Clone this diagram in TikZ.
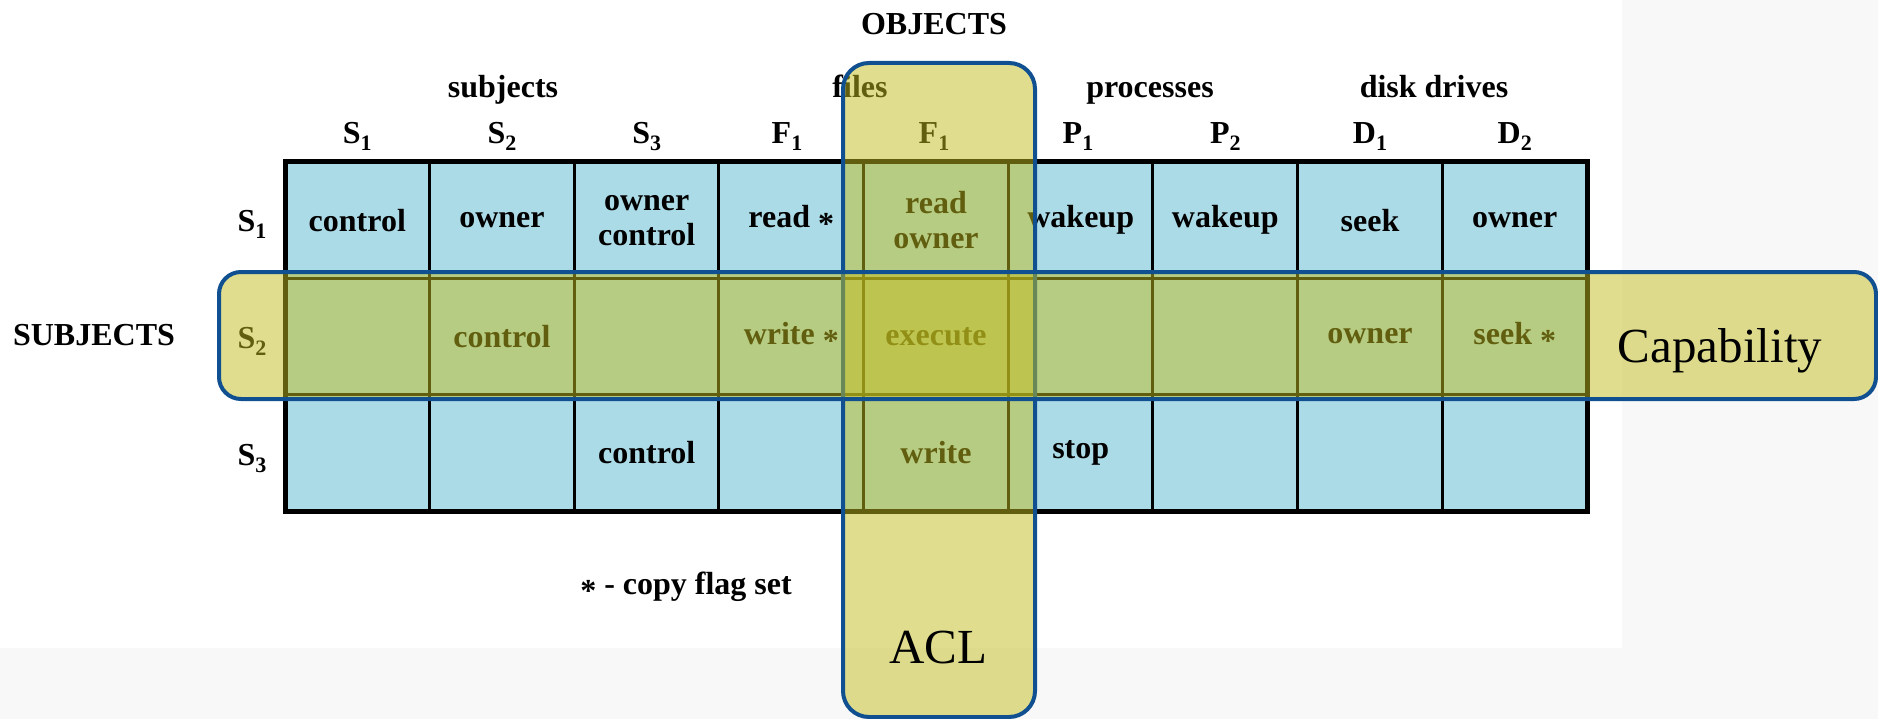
\documentclass[tikz,border=0pt]{standalone}
\usepackage{fontspec}
\setmainfont{Liberation Serif}
\definecolor{cellblue}{RGB}{172,219,232}
\definecolor{bandfill}{RGB}{195,191,31}
\definecolor{bandline}{RGB}{16,80,145}
\definecolor{patbg}{RGB}{248,248,248}
\newcommand\tfont{\fontsize{32}{35}\selectfont\bfseries}
\newcommand\bfont{\fontsize{49}{52}\selectfont}
\newcommand\lsub[1]{\raisebox{-7pt}{\fontsize{22}{22}\selectfont #1}}
\newcommand\cstar{\raisebox{-0.22em}{*}}
\begin{document}
\begin{tikzpicture}[x=1pt,y=-1pt,
  cell/.style={rectangle, minimum width=144.67pt, minimum height=116.33pt, inner sep=0pt, fill=cellblue, draw=black, line width=3pt, font=\tfont, align=center},
  lbl/.style={font=\tfont, anchor=base, inner sep=0pt},
  band/.style={draw=bandline, line width=4pt, fill=bandfill, fill opacity=0.5, rounded corners=26pt, inner sep=0pt},
  bandtext/.style={font=\bfont, anchor=base, inner sep=0pt, text=black}]
\fill[patbg] (0,0) rectangle (1878,719);
\fill[white] (0,0) rectangle (1622,648);
\useasboundingbox (0,0) rectangle (1878,719);

% row 1
\node[cell] (c11) at (357.3,220.2) {control};
\node[cell] (c12) at (502.0,220.2) {owner};
\node[cell] (c13) at (646.7,220.2) {owner\\control};
\node[cell] (c14) at (791.3,220.2) {read \cstar};
\node[cell] (c15) at (936.0,220.2) {read\\owner};
\node[cell] (c16) at (1080.7,220.2) {wakeup};
\node[cell] (c17) at (1225.3,220.2) {wakeup};
\node[cell] (c18) at (1370.0,220.2) {seek};
\node[cell] (c19) at (1514.7,220.2) {owner};
% row 2
\node[cell] (c21) at (357.3,336.5) {};
\node[cell] (c22) at (502.0,336.5) {control};
\node[cell] (c23) at (646.7,336.5) {};
\node[cell] (c24) at (791.3,336.5) {write \cstar};
\node[cell] (c25) at (936.0,336.5) {execute};
\node[cell] (c26) at (1080.7,336.5) {};
\node[cell] (c27) at (1225.3,336.5) {};
\node[cell] (c28) at (1370.0,336.5) {owner};
\node[cell] (c29) at (1514.7,336.5) {seek \cstar};
% row 3
\node[cell] (c31) at (357.3,452.8) {};
\node[cell] (c32) at (502.0,452.8) {};
\node[cell] (c33) at (646.7,452.8) {control};
\node[cell] (c34) at (791.3,452.8) {};
\node[cell] (c35) at (936.0,452.8) {write};
\node[cell] (c36) at (1080.7,452.8) {stop};
\node[cell] (c37) at (1225.3,452.8) {};
\node[cell] (c38) at (1370.0,452.8) {};
\node[cell] (c39) at (1514.7,452.8) {};
\draw[line width=5pt] (285,162) rectangle (1587,511);

% headers
\node[lbl] (objects) at (934,35) {OBJECTS};
\node[lbl] (gsubj) at (503,98) {subjects};
\node[lbl] (gfiles) at (860,98) {files};
\node[lbl] (gproc) at (1150,98) {processes};
\node[lbl] (gdisk) at (1434,98) {disk drives};
\node[lbl] (hs1) at (357.3,144) {S\lsub{1}};
\node[lbl] (hs2) at (502.0,144) {S\lsub{2}};
\node[lbl] (hs3) at (646.7,144) {S\lsub{3}};
\node[lbl] (hf1) at (787,144) {F\lsub{1}};
\node[lbl] (hf2) at (934,144) {F\lsub{1}};
\node[lbl] (hp1) at (1078,144) {P\lsub{1}};
\node[lbl] (hp2) at (1225.3,144) {P\lsub{2}};
\node[lbl] (hd1) at (1370.0,144) {D\lsub{1}};
\node[lbl] (hd2) at (1514.7,144) {D\lsub{2}};
\node[lbl] (rs1) at (252,232) {S\lsub{1}};
\node[lbl] (rs2) at (252,348) {S\lsub{2}};
\node[lbl] (rs3) at (252,465) {S\lsub{3}};
\node[lbl] (subjects) at (94,345) {SUBJECTS};
\node[lbl] (note) at (686,594) {\cstar\ - copy flag set};

% bands
\node[band, minimum width=192pt, minimum height=654pt] (acl) at (939,390) {};
\node[band, rounded corners=22pt, minimum width=1657pt, minimum height=127pt] (cap) at (1047.5,335.5) {};
\node[bandtext] (acltext) at (938,663) {ACL};
\node[bandtext] (captext) at (1720,362) {Capability};
\end{tikzpicture}
\end{document}
